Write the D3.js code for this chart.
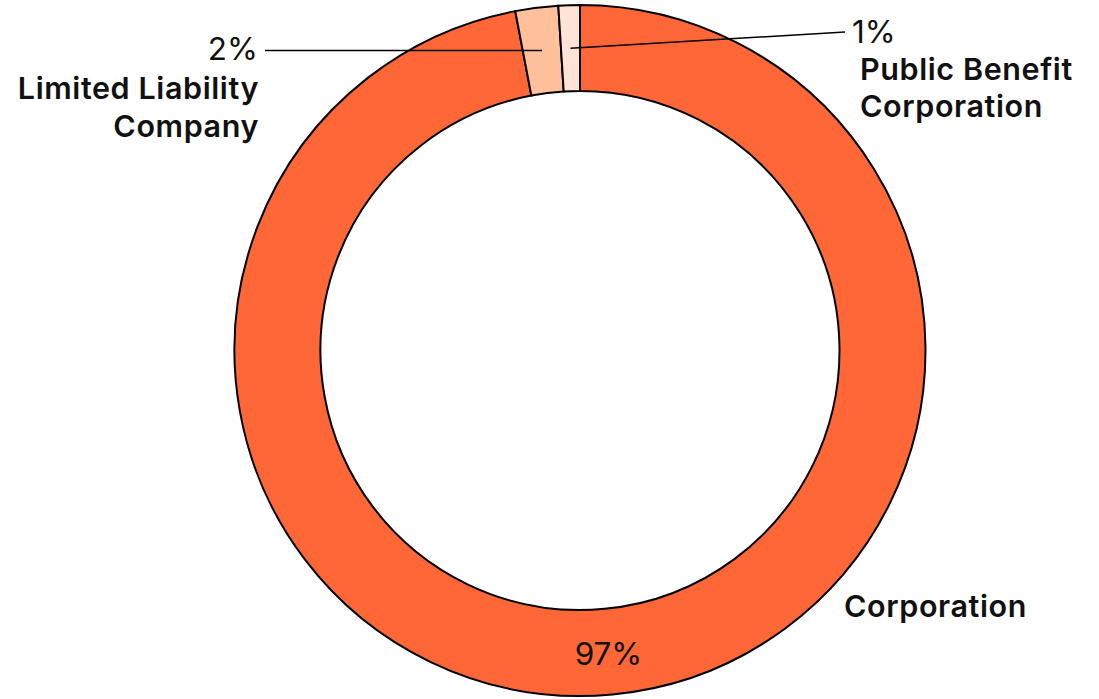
<!DOCTYPE html>
<html>
<head>
<meta charset="utf-8">
<script src="https://cdn.jsdelivr.net/npm/d3@7"></script>
<style>
  html, body { margin: 0; padding: 0; background: #fff; }
  svg { display: block; }
  text { font-family: Inter, "Noto Sans", sans-serif; fill: #111; }
</style>
</head>
<body>
<svg id="chart" width="1099" height="699"></svg>
<script>
// Business entity types
const categories = ["Corporation", "Limited Liability Company", "Public Benefit Corporation"];
const shares = [97, 2, 1];
const colors = ["#ff6836", "#ffc09b", "#ffe3d7"];

const width = 1099, height = 699;
const cx = 580, cy = 350.5;
const outerR = 345.5, innerR = 259.5;

const svg = d3.select("#chart");
const g = svg.append("g").attr("transform", `translate(${cx},${cy})`);

const pie = d3.pie().sort(null).value(d => d.value);
const data = categories.map((c, i) => ({ name: c, value: shares[i], color: colors[i] }));
const arcs = pie(data);

const arc = d3.arc().innerRadius(innerR).outerRadius(outerR);
const mid = d3.arc().innerRadius((innerR + outerR) / 2).outerRadius((innerR + outerR) / 2);

g.selectAll("path.slice")
  .data(arcs)
  .join("path")
  .attr("class", "slice")
  .attr("d", arc)
  .attr("fill", d => d.data.color)
  .attr("stroke", "#000")
  .attr("stroke-width", 2);

const valueSize = 31.5, nameSize = 30.5, nameSpacing = 0.6;

// Large slice: value inside the ring, name outside
const c0 = mid.centroid(arcs[0]);
g.append("text")
  .attr("x", c0[0]).attr("y", c0[1] + 13)
  .attr("text-anchor", "middle")
  .attr("font-size", valueSize)
  .text(shares[0] + "%");

svg.append("text")
  .attr("x", 844).attr("y", 617)
  .attr("font-size", nameSize).attr("font-weight", 600)
  .attr("letter-spacing", nameSpacing)
  .text(categories[0]);

// LLC: leader line to the left
const c1 = mid.centroid(arcs[1]);
svg.append("line")
  .attr("x1", cx + c1[0]).attr("y1", cy + c1[1])
  .attr("x2", 265).attr("y2", cy + c1[1])
  .attr("stroke", "#000").attr("stroke-width", 1.5);
svg.append("text")
  .attr("x", 258).attr("y", 60)
  .attr("text-anchor", "end")
  .attr("font-size", valueSize)
  .text(shares[1] + "%");
const llcLabel = svg.append("text")
  .attr("text-anchor", "end")
  .attr("font-size", nameSize).attr("font-weight", 600)
  .attr("letter-spacing", nameSpacing);
llcLabel.append("tspan").attr("x", 259).attr("y", 99).text("Limited Liability");
llcLabel.append("tspan").attr("x", 259).attr("y", 137).text("Company");

// PBC: leader line to the right
const c2 = mid.centroid(arcs[2]);
svg.append("line")
  .attr("x1", cx + c2[0]).attr("y1", cy + c2[1])
  .attr("x2", 845).attr("y2", 32)
  .attr("stroke", "#000").attr("stroke-width", 1.5);
svg.append("text")
  .attr("x", 852).attr("y", 43)
  .attr("font-size", valueSize)
  .text(shares[2] + "%");
const pbcLabel = svg.append("text")
  .attr("font-size", nameSize).attr("font-weight", 600)
  .attr("letter-spacing", nameSpacing);
pbcLabel.append("tspan").attr("x", 860).attr("y", 80).text("Public Benefit");
pbcLabel.append("tspan").attr("x", 860).attr("y", 117).text("Corporation");
</script>
</body>
</html>
